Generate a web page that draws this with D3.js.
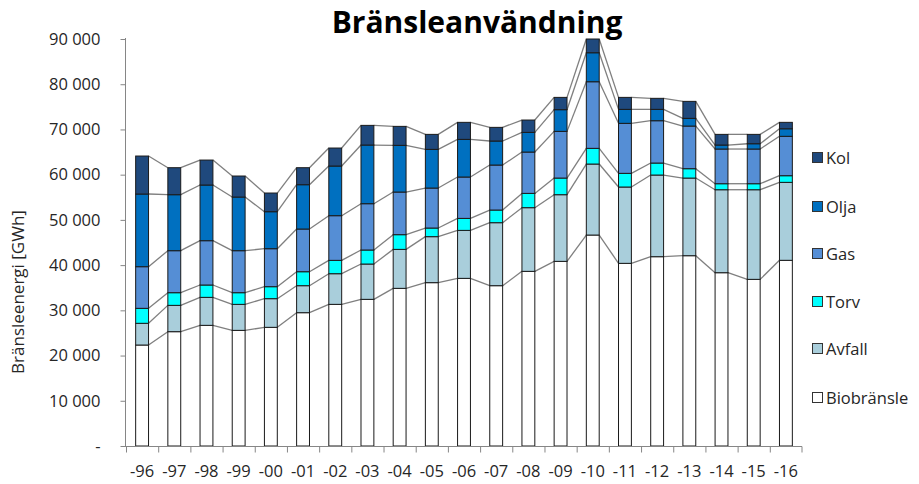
<!DOCTYPE html>
<html><head><meta charset="utf-8">
<script src="https://cdn.jsdelivr.net/npm/d3@7"></script>
<style>
body{margin:0;background:#fff;}
svg{display:block;font-family:"Open Sans", sans-serif;}
</style></head>
<body><svg id="c" width="919" height="484"></svg>
<script>
const categories = ["-96","-97","-98","-99","-00","-01","-02","-03","-04","-05","-06","-07","-08","-09","-10","-11","-12","-13","-14","-15","-16"];
const seriesNames = ["Biobränsle","Avfall","Torv","Gas","Olja","Kol"];
const biobransle = [22330,25280,26680,25570,26240,29480,31320,32430,34860,36120,37070,35450,38620,40830,46650,40390,41860,42080,38320,36850,41060];
const avfall     = [4800,5820,6190,5750,6340,5970,6780,7810,8620,10170,10610,13930,14080,14740,15700,16880,18060,17170,18350,19820,17240];
const torv       = [3310,2800,2730,2580,2650,3090,2950,3100,3250,1910,2650,2800,3160,3680,3470,3020,2650,2070,1330,1330,1470];
const gas        = [9210,9290,9800,9290,8400,9440,9880,10240,9430,8840,9150,9950,9140,10320,14730,11060,9360,9430,7670,7670,8710];
const olja       = [16070,12380,12310,11860,8180,9800,10980,12970,10320,8550,8320,5310,4350,4800,6410,3090,2510,1700,880,1170,1670];
const kol        = [8400,5970,5520,4650,4130,3760,3980,4350,4200,3320,3770,3020,2730,2720,3040,2650,2440,3760,2360,2070,1420];
const yTicks = [0,10000,20000,30000,40000,50000,60000,70000,80000,90000];
const colors = ["#ffffff","#a9cedb","#00ffff","#558ed5","#0070c0","#1f497d"];

const values = [biobransle, avfall, torv, gas, olja, kol];
const rows = categories.map((c,i)=>{const r={cat:c}; seriesNames.forEach((s,k)=>r[s]=values[k][i]); return r;});
const stacked = d3.stack().keys(seriesNames)(rows);

const svg = d3.select("#c");
const x = d3.scaleBand().domain(categories).range([126,802]).paddingInner(0.6).paddingOuter(0.3);
const y = d3.scaleLinear().domain([0,90000]).range([446,39]);
const bw = x.bandwidth();

// series lines
stacked.forEach((layer,k)=>{
  for(let i=0;i<categories.length-1;i++){
    svg.append("line")
      .attr("x1", x(categories[i])+bw).attr("y1", y(layer[i][1]))
      .attr("x2", x(categories[i+1])).attr("y2", y(layer[i+1][1]))
      .attr("stroke","#7f7f7f").attr("stroke-width",1.3);
  }
});

// bars
stacked.forEach((layer,k)=>{
  svg.append("g").selectAll("rect").data(layer).join("rect")
    .attr("x", d=>x(d.data.cat)).attr("width", bw)
    .attr("y", d=>y(d[1])).attr("height", d=>y(d[0])-y(d[1]))
    .attr("fill", colors[k]).attr("stroke","#1a1a1a").attr("stroke-width",1);
});

// y axis
const fmt = v => v===0 ? "-" : d3.format(",")(v).replace(/,/g," ");
const yAxis = d3.axisLeft(y).tickValues(yTicks).tickFormat(fmt).tickSize(5).tickPadding(20);
const gy = svg.append("g").attr("transform","translate(125.5,0)").call(yAxis);
gy.select(".domain").attr("stroke","#868686").attr("d","M0,38V446.5");
gy.selectAll(".tick line").attr("stroke","#868686");
gy.selectAll(".tick text").attr("font-size",16.5).attr("fill","#262626").attr("font-family","'Open Sans', sans-serif");

// x axis
const gx = svg.append("g").attr("transform","translate(0,446.5)");
gx.append("line").attr("x1",125).attr("x2",802).attr("stroke","#868686");
const bounds = categories.map(c=>x(c)-x.step()*0.3+0.5).concat([802]);
bounds.forEach(b=>gx.append("line").attr("x1",b).attr("x2",b).attr("y1",0).attr("y2",6).attr("stroke","#868686"));
gx.selectAll("text.xl").data(categories).join("text").attr("class","xl")
  .attr("x",c=>x(c)+bw/2).attr("y",30).attr("text-anchor","middle")
  .attr("font-size",16.5).attr("fill","#262626").text(c=>c);

// title
svg.append("text").attr("x",477).attr("y",33).attr("text-anchor","middle")
  .attr("font-size",30).attr("font-weight","bold").attr("fill","#000").text("Bränsleanvändning");

// y title
svg.append("text").attr("transform","translate(24,292) rotate(-90)").attr("text-anchor","middle")
  .attr("font-size",17).attr("fill","#262626").text("Bränsleenergi [GWh]");

// legend
const legendY = [158,207,254,302,349,398];
const legOrder = [5,4,3,2,1,0];
legOrder.forEach((k,j)=>{
  svg.append("rect").attr("x",812.5).attr("y",legendY[j]-5.5).attr("width",10).attr("height",10)
    .attr("fill",colors[k]).attr("stroke","#333").attr("stroke-width",1);
  svg.append("text").attr("x",826).attr("y",legendY[j]+6).attr("font-size",16.5).attr("fill","#262626").text(seriesNames[k]);
});
</script></body></html>
